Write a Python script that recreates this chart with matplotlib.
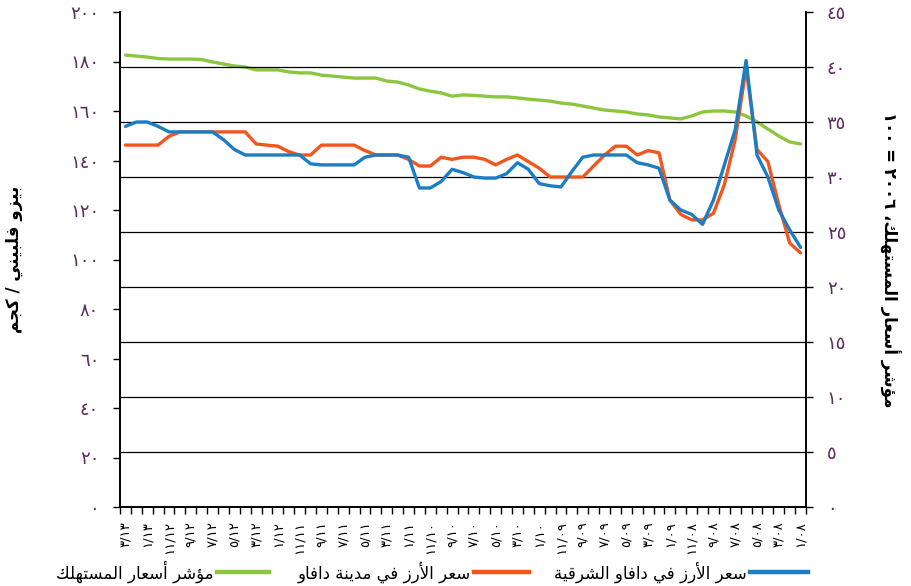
import matplotlib
matplotlib.use('Agg')
import matplotlib.pyplot as plt
from matplotlib.lines import Line2D
from matplotlib.ticker import FixedLocator, NullFormatter
import numpy as np

# monthly, Jan 2008 (index 0) .. Mar 2013 (index 62); axis runs right to left
MONTHS = [(m, y) for y in range(8, 14) for m in range(1, 13)][:63]

CPI = [146.7, 147.5, 149.9, 152.7, 155.6, 158.0, 159.6, 160.0, 160.0, 159.6,
       158.0, 156.8, 157.2, 157.6, 158.4, 158.8, 159.6, 160.0, 160.4, 161.2,
       162.0, 162.8, 163.2, 164.0, 164.4, 164.8, 165.3, 165.7, 165.7, 166.0,
       166.3, 166.5, 166.0, 167.3, 168.0, 168.9, 170.5, 171.7, 172.1, 173.3,
       173.3, 173.3, 173.7, 174.1, 174.5, 175.4, 175.4, 175.8, 176.6, 176.6,
       176.6, 177.8, 178.2, 179.0, 179.8, 180.8, 181.0, 181.0, 181.0, 181.2,
       181.8, 182.2, 182.6]

RICE_CITY = [23.1, 24.0, 27.5, 31.4, 32.5, 39.9, 33.4, 29.3, 26.7, 26.1,
             26.1, 26.6, 27.9, 32.2, 32.4, 32.0, 32.8, 32.8, 32.0, 31.0,
             30.0, 30.0, 30.0, 30.0, 30.8, 31.4, 32.0, 31.6, 31.1, 31.6,
             31.8, 31.8, 31.6, 31.8, 31.0, 31.0, 31.6, 32.0, 32.0, 32.0,
             32.4, 32.9, 32.9, 32.9, 32.9, 32.0, 32.0, 32.3, 32.8, 32.9,
             33.0, 34.1, 34.1, 34.1, 34.1, 34.1, 34.1, 34.1, 33.7, 32.9,
             32.9, 32.9, 32.9]

RICE_EAST = [23.6, 25.2, 27.0, 30.0, 32.0, 40.6, 34.3, 31.1, 27.9, 25.7,
             26.6, 27.0, 27.9, 30.8, 31.1, 31.3, 32.0, 32.0, 32.0, 32.0,
             31.8, 30.5, 29.1, 29.2, 29.4, 30.7, 31.3, 30.3, 29.9, 29.9,
             30.0, 30.4, 30.7, 29.6, 29.0, 29.0, 31.8, 32.0, 32.0, 32.0,
             31.8, 31.1, 31.1, 31.1, 31.1, 31.2, 32.0, 32.0, 32.0, 32.0,
             32.0, 32.0, 32.5, 33.4, 34.1, 34.1, 34.1, 34.1, 34.1, 34.6,
             35.0, 35.0, 34.6]

LEFT_TICKS = list(range(0, 201, 20))
RIGHT_TICKS = list(range(0, 46, 5))

LABEL_EAST = 'سعر الأرز في دافاو الشرقية'
LABEL_CITY = 'سعر الأرز في مدينة دافاو'
LABEL_CPI = 'مؤشر أسعار المستهلك'
LEFT_TITLE = 'بيزو فلبيني / كجم'
RIGHT_TITLE = 'مؤشر أسعار المستهلك، ٢٠٠٦ = ١٠٠'

BLUE = '#1b7dc4'
ORANGE = '#f2561d'
GREEN = '#8cc63f'
TICK_COLOR = '#5b2d5e'

# matplotlib has no arabic shaping: map letters to presentation forms
# (isolated, final, initial, medial) and lay the text out right to left
FORMS = {
  'ا': ('\uFE8D', '\uFE8E', None, None),
  'أ': ('\uFE83', '\uFE84', None, None),
  'ؤ': ('\uFE85', '\uFE86', None, None),
  'ة': ('\uFE93', '\uFE94', None, None),
  'د': ('\uFEA9', '\uFEAA', None, None),
  'ر': ('\uFEAD', '\uFEAE', None, None),
  'ز': ('\uFEAF', '\uFEB0', None, None),
  'و': ('\uFEED', '\uFEEE', None, None),
  '\uFEF7': ('\uFEF7', '\uFEF8', None, None),
  'ب': ('\uFE8F', '\uFE90', '\uFE91', '\uFE92'),
  'ت': ('\uFE95', '\uFE96', '\uFE97', '\uFE98'),
  'ج': ('\uFE9D', '\uFE9E', '\uFE9F', '\uFEA0'),
  'س': ('\uFEB1', '\uFEB2', '\uFEB3', '\uFEB4'),
  'ش': ('\uFEB5', '\uFEB6', '\uFEB7', '\uFEB8'),
  'ع': ('\uFEC9', '\uFECA', '\uFECB', '\uFECC'),
  'ف': ('\uFED1', '\uFED2', '\uFED3', '\uFED4'),
  'ق': ('\uFED5', '\uFED6', '\uFED7', '\uFED8'),
  'ك': ('\uFED9', '\uFEDA', '\uFEDB', '\uFEDC'),
  'ل': ('\uFEDD', '\uFEDE', '\uFEDF', '\uFEE0'),
  'م': ('\uFEE1', '\uFEE2', '\uFEE3', '\uFEE4'),
  'ن': ('\uFEE5', '\uFEE6', '\uFEE7', '\uFEE8'),
  'ه': ('\uFEE9', '\uFEEA', '\uFEEB', '\uFEEC'),
  'ي': ('\uFEF1', '\uFEF2', '\uFEF3', '\uFEF4'),
}
DIGITS = '0123456789٠١٢٣٤٥٦٧٨٩'


def shape(text):
  chars = list(text.replace('لأ', '\uFEF7'))
  out = []
  for k, c in enumerate(chars):
    if c not in FORMS:
      out.append(c)
      continue
    prev = chars[k - 1] if k > 0 else None
    nxt = chars[k + 1] if k + 1 < len(chars) else None
    p = prev in FORMS and FORMS[prev][2] is not None
    q = FORMS[c][2] is not None and nxt in FORMS
    iso, fin, ini, med = FORMS[c]
    out.append(med if p and q else fin if p else ini if q else iso)
  out.reverse()
  # numbers keep their left to right order
  res, run = [], []
  for c in out + [None]:
    if c is not None and c in DIGITS:
      run.append(c)
      continue
    res.extend(reversed(run))
    run = []
    if c is not None:
      res.append(c)
  return ''.join(res)


def ar(n, width=1):
  return str(n).zfill(width).translate(str.maketrans('0123456789', '٠١٢٣٤٥٦٧٨٩'))


plt.rcParams['font.family'] = ['DejaVu Sans']
fig = plt.figure(figsize=(9.11, 5.86), dpi=100)
ax = fig.add_axes([120 / 911, 1 - 507 / 586, 686 / 911, 495 / 586])
ax2 = ax.twinx()

x = np.arange(len(MONTHS))
ax.plot(x, CPI, color=GREEN, lw=2.4, solid_capstyle='round')
ax2.plot(x, RICE_CITY, color=ORANGE, lw=2.4, solid_capstyle='round')
ax2.plot(x, RICE_EAST, color=BLUE, lw=2.4, solid_capstyle='round')

ax.set_xlim(len(MONTHS) - 0.5, -0.5)
ax.set_ylim(0, 200)
ax2.set_ylim(0, 45)

ax.set_yticks(LEFT_TICKS)
ax.set_yticklabels([ar(v) for v in LEFT_TICKS], color=TICK_COLOR, fontsize=13)
ax2.set_yticks(RIGHT_TICKS)
ax2.set_yticklabels([ar(v) for v in RIGHT_TICKS], color=TICK_COLOR, fontsize=13)
for g in RIGHT_TICKS[1:-1]:
  ax2.axhline(g, color='black', lw=0.9, zorder=0)

ax.xaxis.set_major_locator(FixedLocator(np.arange(-0.5, len(MONTHS), 1)))
ax.xaxis.set_major_formatter(NullFormatter())
ax.set_xticks(x[::2], minor=True)
ax.set_xticklabels([ar(m) + '/' + ar(y, 2) for m, y in MONTHS[::2]],
                   minor=True, rotation=90, fontsize=9.5)
ax.tick_params(axis='x', which='major', length=5, width=1)
ax.tick_params(axis='x', which='minor', length=0, pad=10)
ax.tick_params(axis='y', length=5, width=1, pad=10)
ax2.tick_params(axis='y', length=5, width=1, pad=10)

for a in (ax, ax2):
  a.spines['top'].set_visible(False)
  for s in ('left', 'right', 'bottom'):
    a.spines[s].set_linewidth(1.2)

ax.set_ylabel(shape(LEFT_TITLE), fontsize=12, fontweight='bold', rotation=90)
ax.yaxis.set_label_coords(-0.141, 0.5)
ax2.set_ylabel(shape(RIGHT_TITLE), fontsize=12, fontweight='bold', rotation=-90)
ax2.yaxis.set_label_coords(1.137, 0.5)

# legend laid out right to left, line to the right of each label
legend_items = [(GREEN, LABEL_CPI, 217, 269),
                (ORANGE, LABEL_CITY, 474, 529),
                (BLUE, LABEL_EAST, 750, 808)]
ly = 1 - 572 / 586
for color, text, x0, x1 in legend_items:
  fig.add_artist(Line2D([x0 / 911, x1 / 911], [ly, ly], color=color, lw=3.2,
                        transform=fig.transFigure))
  fig.text((x0 - 3) / 911, ly, shape(text), ha='right', va='center', fontsize=12)

fig.savefig('out.png', dpi=100)
